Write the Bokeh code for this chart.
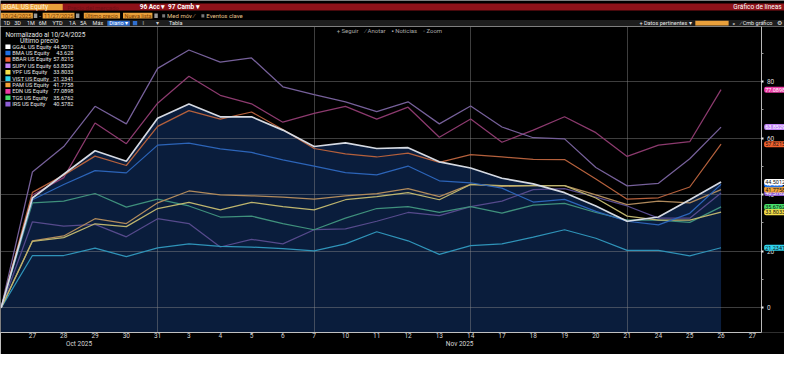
from datetime import date
from bokeh.plotting import figure
from bokeh.layouts import column
from bokeh.models import Range1d, LinearAxis, FixedTicker, Label, BoxAnnotation
from bokeh.core.properties import value
from bokeh.embed import file_html
from bokeh.resources import INLINE

# ---------------- data ----------------
dates = ["2025-10-24", "2025-10-27", "2025-10-28", "2025-10-29", "2025-10-30", "2025-10-31",
         "2025-11-03", "2025-11-04", "2025-11-05", "2025-11-06", "2025-11-07",
         "2025-11-10", "2025-11-11", "2025-11-12", "2025-11-13", "2025-11-14",
         "2025-11-17", "2025-11-18", "2025-11-19", "2025-11-20", "2025-11-21",
         "2025-11-24", "2025-11-25", "2025-11-26"]
day_labels = ["27", "28", "29", "30", "31", "3", "4", "5", "6", "7", "10", "11", "12", "13",
              "14", "17", "18", "19", "20", "21", "24", "25", "26", "27"]
month_labels = ["Oct 2025", "Nov 2025"]
names = ["GGAL US Equity", "BMA US Equity", "BBAR US Equity", "SUPV US Equity", "YPF US Equity",
         "VIST US Equity", "PAM US Equity", "EDN US Equity", "TGS US Equity", "IRS US Equity"]

GGAL = [0, 38.8, 47.2, 55.5, 51.8, 67.0, 72.0, 67.5, 67.5, 62.8, 57.0, 58.3, 56.3, 56.6, 51.6, 49.4, 45.8, 43.8, 40.7, 36.0, 30.6, 32.1, 38.2, 44.5012]
BMA = [0, 38.2, 43.6, 48.5, 47.7, 57.5, 58.2, 56.2, 54.9, 52.3, 50.1, 47.8, 47.0, 50.1, 44.9, 44.2, 42.3, 37.4, 38.3, 34.1, 30.6, 29.3, 33.4, 43.628]
BBAR = [0, 40.8, 46.9, 53.6, 50.3, 64.1, 69.7, 66.7, 69.2, 63.0, 56.3, 54.4, 53.3, 54.7, 51.4, 54.1, 53.3, 52.5, 52.4, 45.5, 38.4, 38.9, 42.7, 57.8215]
SUPV = [0, 48.0, 57.0, 71.2, 65.0, 84.6, 91.1, 86.8, 88.3, 78.1, 75.3, 72.8, 69.3, 72.8, 65.0, 71.3, 63.9, 60.1, 59.7, 49.6, 43.1, 44.0, 52.7, 63.8529]
YPF = [0, 23.5, 24.8, 29.7, 28.7, 35.1, 37.3, 34.6, 37.3, 35.8, 34.6, 38.2, 39.3, 40.7, 38.2, 43.6, 43.2, 43.2, 43.2, 38.8, 32.4, 31.0, 31.0, 33.8033]
VIST = [0, 18.5, 18.5, 21.1, 18.1, 21.2, 22.6, 21.7, 21.5, 20.9, 20.1, 22.6, 26.9, 23.7, 18.9, 22.0, 22.6, 25.0, 27.6, 24.6, 20.3, 20.3, 18.4, 21.2341]
PAM = [0, 23.7, 25.4, 31.5, 29.8, 37.1, 41.3, 39.9, 39.6, 39.1, 38.4, 39.6, 40.4, 42.1, 39.3, 43.6, 42.9, 43.2, 43.2, 39.9, 36.5, 37.7, 37.1, 41.7758]
EDN = [0, 39.9, 46.0, 65.3, 58.0, 72.3, 81.8, 75.1, 72.1, 65.6, 68.7, 71.2, 66.7, 70.9, 60.3, 66.7, 58.5, 62.8, 67.5, 61.9, 53.5, 57.5, 58.7, 77.0898]
TGS = [0, 37.1, 37.7, 40.4, 35.6, 38.4, 36.0, 32.1, 32.4, 29.8, 27.6, 31.7, 35.1, 35.8, 33.7, 35.8, 33.5, 36.3, 36.9, 33.7, 31.0, 31.0, 30.2, 35.6762]
IRS = [0, 30.4, 28.9, 29.5, 25.1, 31.5, 29.8, 21.5, 24.2, 22.6, 27.6, 27.9, 30.6, 33.7, 32.6, 35.8, 37.7, 41.8, 42.1, 39.1, 36.0, 31.7, 31.7, 40.5782]
y_ticks = [0, 20, 40, 60, 80]

series = [GGAL, BMA, BBAR, SUPV, YPF, VIST, PAM, EDN, TGS, IRS]

# ---------------- styles ----------------
line_colors = ["#d6dae2", "#2c64b8", "#b4603c", "#76609a", "#bdb46e",
               "#2f93b8", "#b08a5c", "#8c3a6e", "#3f907c", "#564a8c"]
key_colors = ["#ffffff", "#1f6fe5", "#f2622e", "#c084f5", "#f5e04a",
              "#2fd3ee", "#f4a236", "#ec3aa4", "#46e06a", "#8e5ed6"]
key_text = ["#111111", "#ffffff", "#111111", "#ffffff", "#111111",
            "#111111", "#111111", "#ffffff", "#111111", "#ffffff"]
FONT = "Roboto"
W = 784          # figure width
HH = 26          # header height
FH = 306         # frame height
BB = 22          # bottom border
SXS = W / 800.0  # horizontal scale of the reference layout
REF_UNIT = 31.94  # reference px per trading day
X0 = -0.02

n = len(dates)
xs = list(range(n))
x_end = X0 + W / (REF_UNIT * SXS)
axis_x = X0 + 777 / REF_UNIT
month_break = max(i for i, d in enumerate(dates) if d.startswith("2025-10"))
fridays = [i for i, d in enumerate(dates) if i > 0 and date.fromisoformat(d).weekday() == 4]

# ---------------- header ----------------
h = figure(width=W, height=HH, x_range=Range1d(0, 800), y_range=Range1d(27, 0),
           output_backend="svg", toolbar_location=None, min_border=0,
           x_axis_type=None, y_axis_type=None, background_fill_color="black",
           border_fill_color="black", outline_line_color=None)
h.grid.visible = False


def hbox(l, r, t, b, c):
    h.quad(left=[l], right=[r], top=[t], bottom=[b], fill_color=c, line_color=None)


def htext(x, y, s, c, size="6.5px", align="left", style="normal"):
    h.text(x=[x], y=[y], text=[s], text_color=c, text_font_size=value(size),
           text_align=align, text_baseline="middle", text_font=value(FONT),
           text_font_style=style)


hbox(0, 800, 3.2, 10.4, "#8e1219")
hbox(0, 63.5, 3.6, 10.2, "#e9a03b")
htext(2, 7, "GGAL US Equity", "#fff3dc", "6.5px")
htext(68, 7, "Precio del mercado", "#6e1015", "6px")
htext(142, 7, "96 Acc \u25be", "#ffffff", "6.5px", style="bold")
htext(171, 7, "97 Camb \u25be", "#ffffff", "6.5px", style="bold")
htext(797, 7, "Gr\u00e1fico de l\u00edneas", "#ffffff", "6.5px", "right")

# row 2
for (l, r, s) in [(0, 33, "10/24/2025"), (43, 75.5, "11/27/2025"),
                  (85, 122, "\u00daltimo precio"), (125, 155, "Nueva lista")]:
    hbox(l, r, 12.8, 18.8, "#e9a03b")
    htext(l + 1.5, 15.9, s, "#7a3a00", "5.5px")
for l in [34, 77, 157]:
    hbox(l, l + 3.5, 13.5, 18.2, "#9a9a9a")
htext(39.5, 15.9, "-", "#dddddd", "6px")
hbox(165, 168, 14.2, 17.6, "#777777")
htext(170, 15.9, "Med m\u00f3v \u2215", "#e6c28a", "6px")
hbox(205, 208, 14.2, 17.6, "#777777")
htext(210, 15.9, "Eventos clave", "#e6c28a", "6px")

# row 3
hbox(0, 800, 20.2, 26.8, "#1d1d1d")
for x, s in [(3, "1D"), (14, "3D"), (27, "1M"), (39, "6M"), (53, "YTD"), (70, "1A"),
             (81, "5A"), (94, "M\u00e1x")]:
    htext(x, 23.5, s, "#e8e8e8", "5.5px")
hbox(109, 132, 20.9, 26.1, "#2f6fd0")
htext(111, 23.5, "Diario \u25be", "#ffffff", "5.5px")
hbox(135, 139.5, 21.3, 25.7, "#2f6fd0")
htext(145, 23.5, "\u2016", "#cccccc", "5.5px")
htext(159, 23.5, "\u25be", "#cccccc", "5.5px")
htext(172, 23.5, "Tabla", "#e8e8e8", "5.5px")
htext(652, 23.5, "+ Datos pertinentes \u25be", "#e8e8e8", "5.5px")
hbox(709, 743, 21.0, 26.0, "#e9a03b")
htext(747, 23.5, "\u00ab", "#e8e8e8", "5.5px")
htext(755, 23.5, "\u2215 Cmb gr\u00e1fico", "#e8e8e8", "5.5px")
htext(797, 23.5, "\u2699", "#e8e8e8", "5.5px", "right")

# ---------------- main chart ----------------
p = figure(frame_width=W, frame_height=FH, x_range=Range1d(X0, x_end),
           y_range=Range1d(-8.7, 99.4), y_axis_location="right",
           output_backend="svg", toolbar_location=None,
           min_border_left=0, min_border_top=0, min_border_right=0,
           min_border_bottom=BB, background_fill_color="black",
           border_fill_color="black", outline_line_color=None)

# area of GGAL
p.varea(x=xs, y1=-30, y2=GGAL, fill_color="#0a1d3c", level="image")

# grid
p.ygrid.ticker = FixedTicker(ticks=y_ticks)
p.xgrid.ticker = FixedTicker(ticks=fridays)
for g in (p.xgrid[0], p.ygrid[0]):
    g.grid_line_color = "#8a8a8a"
    g.grid_line_alpha = 0.45
    g.grid_line_width = 1

# black strip right of the value axis (hides the grid there)
p.add_layout(BoxAnnotation(left=axis_x, right=x_end + 1, fill_color="black", fill_alpha=1,
                           line_color=None, level="glyph"))

order = [9, 8, 7, 6, 5, 4, 3, 2, 1, 0]
for k in order:
    p.line(x=xs, y=series[k], line_color=line_colors[k],
           line_width=1.7 if k == 0 else 1.25)

# right value axis, drawn at its fixed place inside the frame
yax = p.yaxis[0]
yax.fixed_location = axis_x
yax.ticker = FixedTicker(ticks=y_ticks, minor_ticks=[10, 30, 50, 70, 90])
yax.axis_line_color = "#b8b8b8"
yax.major_tick_line_color = "#eeeeee"
yax.major_tick_line_width = 2
yax.major_tick_out = 2
yax.major_tick_in = 0
yax.minor_tick_line_color = "#9a9a9a"
yax.minor_tick_out = 2
yax.minor_tick_in = 0
yax.major_label_text_color = "#dddddd"
yax.major_label_text_font_size = "6.5px"
yax.major_label_text_font = FONT
yax.major_label_standoff = 3

# day axis
xax = p.xaxis[0]
xax.bounds = (X0, axis_x)
xax.ticker = FixedTicker(ticks=list(range(1, len(day_labels) + 1)))
xax.major_label_overrides = {i + 1: lab for i, lab in enumerate(day_labels)}
xax.axis_line_color = "#c0c0c0"
xax.major_tick_out = 0
xax.major_tick_in = 0
xax.major_label_standoff = 0
xax.major_label_text_color = "#d6d6d6"
xax.major_label_text_font_size = "6.5px"
xax.major_label_text_font = FONT

# month axis
oct_c = round((X0 + month_break) / 2, 2)
nov_c = round((month_break + axis_x) / 2, 2)
max_ = LinearAxis(ticker=FixedTicker(ticks=[oct_c, nov_c]),
                  major_label_overrides={oct_c: month_labels[0], nov_c: month_labels[1]})
max_.axis_line_color = None
max_.major_tick_line_color = None
max_.major_tick_out = 0
max_.major_tick_in = 0
max_.major_label_standoff = -1
max_.major_label_text_color = "#d6d6d6"
max_.major_label_text_font_size = "6.5px"
max_.major_label_text_font = FONT
p.add_layout(max_, "below")


def sx(rx):
    return rx * SXS


def sy(ry):
    return (350 - ry) * FH / 323.0


def lab(rx, ry, s, c, size="6px", align="left"):
    p.add_layout(Label(x=sx(rx), y=sy(ry), x_units="screen", y_units="screen", text=s,
                       text_color=c, text_font_size=size, text_align=align,
                       text_baseline="middle", text_font=FONT))


# legend
lab(5, 35.5, "Normalizado al 10/24/2025", "#e6e6e6", "6.5px")
lab(39.5, 41.8, "\u00daltimo precio", "#e6e6e6", "6.5px", align="center")
for k in range(len(names)):
    ry = 48.3 + 6.74 * k
    p.add_layout(BoxAnnotation(left=sx(5), right=sx(10.2), top=sy(ry - 2.4), bottom=sy(ry + 2.4),
                               left_units="screen", right_units="screen",
                               top_units="screen", bottom_units="screen",
                               fill_color=key_colors[k], fill_alpha=1, line_color=None))
    lab(12, ry, names[k], "#e6e6e6", "5.6px")
    lab(74.5, ry, f"{series[k][-1]:g}", "#e6e6e6", "5.6px", align="right")

# chart toolbar
lab(343, 31, "+ Seguir", "#a8a8a8")
lab(372, 31, "\u2215 Anotar", "#a8a8a8")
lab(399, 31, "\u25aa Noticias", "#a8a8a8")
lab(431, 31, "\u25e6 Zoom", "#a8a8a8")

# last-value tags right of the value axis
for k in order:
    v = series[k][-1]
    p.add_layout(Label(x=axis_x + 0.07, y=v, text=f"{v:g}",
                       text_color=key_text[k], text_font_size="5.5px", text_font=FONT,
                       text_baseline="middle", text_align="left",
                       background_fill_color=key_colors[k], background_fill_alpha=1,
                       padding=1, border_radius=2))

layout = column(h, p)
open("out.html", "w").write(file_html(layout, INLINE, title="GGAL US Equity"))
